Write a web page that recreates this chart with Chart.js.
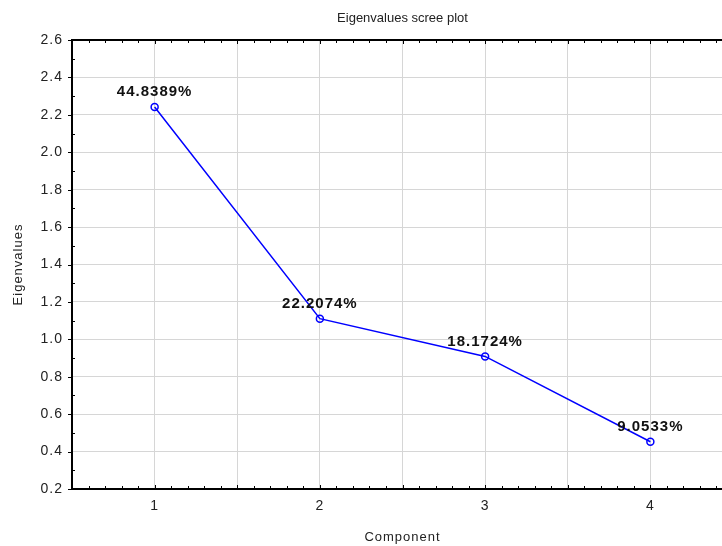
<!DOCTYPE html>
<html>
<head>
<meta charset="utf-8">
<title>Eigenvalues scree plot</title>
<script src="https://cdn.jsdelivr.net/npm/chart.js@4.4.1/dist/chart.umd.min.js"></script>
<style>
  html, body { margin: 0; padding: 0; background: #fff; overflow: hidden; }
  #screeChart { display: block; }
</style>
</head>
<body>
<canvas id="screeChart" width="746" height="546"></canvas>
<script>
// scree plot data: component number, eigenvalue, share of variance
const components = [1, 2, 3, 4];
const eigenvalues = [2.2419, 1.1104, 0.9086, 0.4527];
const percentLabels = ['44.8389%', '22.2074%', '18.1724%', '9.0533%'];
const xTickLabels = ['1', '2', '3', '4'];
const yTickLabels = ['0.2', '0.4', '0.6', '0.8', '1.0', '1.2', '1.4', '1.6', '1.8', '2.0', '2.2', '2.4', '2.6'];

const FONT = '"Liberation Sans", Arial, sans-serif';

// wider letter spacing for tick labels and axis titles
const spacing = {
    id: 'spacing',
    beforeInit(chart) { chart.ctx.letterSpacing = '1px'; },
    beforeUpdate(chart) { chart.ctx.letterSpacing = '1px'; },
    beforeDraw(chart) { chart.ctx.letterSpacing = '1px'; }
};

// black frame with small minor/major tick marks
const frame = {
    id: 'frame',
    beforeDatasetsDraw(chart) {
        const ctx = chart.ctx;
        const a = chart.chartArea;
        const x = chart.scales.x;
        const y = chart.scales.y;
        ctx.save();
        ctx.strokeStyle = '#000';
        ctx.lineWidth = 2;
        ctx.beginPath();
        ctx.moveTo(a.left, a.top);
        ctx.lineTo(a.right, a.top);
        ctx.lineTo(a.right, a.bottom);
        ctx.lineTo(a.left, a.bottom);
        ctx.closePath();
        ctx.stroke();

        ctx.lineWidth = 1;
        ctx.beginPath();
        for (let i = 5; i <= 45; i++) {
            const px = Math.round(x.getPixelForValue(i / 10)) + 0.5;
            const len = i % 5 === 0 ? 4 : 3;
            ctx.moveTo(px, a.bottom);
            ctx.lineTo(px, a.bottom - len);
            ctx.moveTo(px, a.top);
            ctx.lineTo(px, a.top + len);
        }
        for (let i = 2; i <= 26; i++) {
            const py = Math.round(y.getPixelForValue(i / 10)) + 0.5;
            ctx.moveTo(a.left, py);
            if (i % 2 === 0) {
                ctx.lineTo(a.left - 4, py);
            } else {
                ctx.lineTo(a.left + 3, py);
            }
        }
        ctx.stroke();
        ctx.restore();
    }
};

// chart title and percentage labels above each point
const annotations = {
    id: 'annotations',
    afterDatasetsDraw(chart) {
        const ctx = chart.ctx;
        const a = chart.chartArea;
        ctx.save();
        ctx.letterSpacing = '0px';
        ctx.fillStyle = '#222';
        ctx.font = '13px ' + FONT;
        ctx.textAlign = 'center';
        ctx.textBaseline = 'middle';
        ctx.fillText('Eigenvalues scree plot', (a.left + a.right) / 2, 18);

        ctx.letterSpacing = '1px';
        ctx.fillStyle = '#111';
        ctx.font = 'bold 15px ' + FONT;
        const meta = chart.getDatasetMeta(0);
        meta.data.forEach(function(pt, i) {
            ctx.fillText(percentLabels[i], pt.x, pt.y - 15);
        });
        ctx.restore();
    }
};

const ctx = document.getElementById('screeChart').getContext('2d');

new Chart(ctx, {
    type: 'line',
    data: {
        datasets: [{
            label: 'Eigenvalues',
            data: components.map(function(c, i) { return { x: c, y: eigenvalues[i] }; }),
            borderColor: '#0000ff',
            borderWidth: 1.5,
            backgroundColor: 'rgba(0, 0, 0, 0)',
            pointRadius: 3.5,
            pointBorderWidth: 1.5,
            pointBorderColor: '#0000ff',
            pointBackgroundColor: 'rgba(0, 0, 0, 0)',
            tension: 0,
            fill: false
        }]
    },
    options: {
        responsive: false,
        animation: false,
        layout: {
            padding: { top: 40, right: 13, left: 0, bottom: 0 }
        },
        plugins: {
            legend: { display: false },
            title: { display: false },
            tooltip: { enabled: false }
        },
        scales: {
            x: {
                type: 'linear',
                min: 0.5,
                max: 4.5,
                afterFit: function(scale) { scale.height = 57; },
                grid: { color: '#d6d6d6', lineWidth: 1, drawTicks: false },
                border: { display: false },
                ticks: {
                    stepSize: 0.5,
                    autoSkip: false,
                    maxRotation: 0,
                    padding: 9,
                    color: '#222',
                    font: { family: FONT, size: 14 },
                    callback: function(value) {
                        const i = components.indexOf(value);
                        return i >= 0 ? xTickLabels[i] : '';
                    }
                },
                title: {
                    display: true,
                    text: 'Component',
                    color: '#222',
                    font: { family: FONT, size: 13 },
                    padding: { top: 0, bottom: 1 }
                }
            },
            y: {
                min: 0.2,
                max: 2.6,
                afterFit: function(scale) { scale.width = 72; },
                grid: { color: '#d6d6d6', lineWidth: 1, drawTicks: false },
                border: { display: false },
                ticks: {
                    stepSize: 0.2,
                    autoSkip: false,
                    padding: 9,
                    color: '#222',
                    font: { family: FONT, size: 14 },
                    callback: function(value, index) { return yTickLabels[index]; }
                },
                title: {
                    display: true,
                    text: 'Eigenvalues',
                    color: '#222',
                    font: { family: FONT, size: 13 },
                    padding: { top: 11, bottom: 0 }
                }
            }
        }
    },
    plugins: [spacing, frame, annotations]
});
</script>
</body>
</html>
